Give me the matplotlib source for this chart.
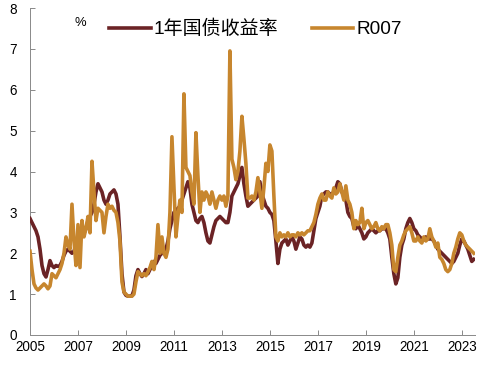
import numpy as np
import matplotlib
matplotlib.use("Agg")
import matplotlib.pyplot as plt

plt.rcParams['font.family'] = ['Liberation Sans', 'Noto Sans CJK SC']

# monthly averages, Jan 2005 - Jul 2023 (%)
bond_1y = [
    2.85, 2.75, 2.65, 2.55, 2.4, 2.1, 1.7, 1.5, 1.42, 1.6, 1.82, 1.7,      # 2005
    1.65, 1.7, 1.68, 1.7, 1.8, 1.95, 2.05, 2.1, 2.05, 2.0, 2.05, 2.2,      # 2006
    2.3, 2.35, 2.45, 2.5, 2.6, 2.8, 2.9, 3.0, 3.2, 3.5, 3.7, 3.6,          # 2007
    3.5, 3.3, 3.2, 3.3, 3.45, 3.5, 3.55, 3.45, 3.2, 2.4, 1.5, 1.05,        # 2008
    0.97, 0.95, 0.95, 0.96, 1.1, 1.45, 1.6, 1.5, 1.43, 1.5, 1.6, 1.5,      # 2009
    1.6, 1.75, 1.8, 1.75, 1.85, 1.95, 2.0, 2.05, 2.1, 2.3, 2.6, 2.8,       # 2010
    3.0, 3.05, 3.1, 3.15, 3.3, 3.45, 3.6, 3.75, 3.6, 3.2, 3.0, 2.8,        # 2011
    2.75, 2.85, 2.9, 2.75, 2.5, 2.3, 2.25, 2.45, 2.65, 2.8, 2.85, 2.9,     # 2012
    2.85, 2.8, 2.75, 2.75, 3.0, 3.4, 3.5, 3.6, 3.7, 3.9, 4.1, 3.7,         # 2013
    3.4, 3.15, 3.2, 3.25, 3.3, 3.35, 3.4, 3.75, 3.45, 3.3, 3.15, 3.1,      # 2014
    3.0, 2.95, 2.8, 2.3, 1.75, 2.1, 2.25, 2.3, 2.35, 2.2, 2.3, 2.4,        # 2015
    2.3, 2.1, 2.25, 2.4, 2.35, 2.2, 2.15, 2.2, 2.15, 2.25, 2.55, 2.85,     # 2016
    3.0, 3.15, 3.4, 3.45, 3.5, 3.5, 3.45, 3.45, 3.5, 3.6, 3.75, 3.7,       # 2017
    3.5, 3.4, 3.3, 3.0, 2.9, 2.85, 2.65, 2.6, 2.7, 2.6, 2.5, 2.35,         # 2018
    2.4, 2.5, 2.55, 2.6, 2.55, 2.5, 2.55, 2.55, 2.6, 2.6, 2.6, 2.5,        # 2019
    2.35, 1.9, 1.5, 1.25, 1.4, 1.9, 2.2, 2.35, 2.6, 2.75, 2.85, 2.75,      # 2020
    2.6, 2.55, 2.45, 2.4, 2.35, 2.35, 2.4, 2.35, 2.35, 2.35, 2.3, 2.2,     # 2021
    2.1, 2.05, 2.0, 1.95, 1.9, 1.85, 1.8, 1.75, 1.8, 1.9, 2.0, 2.2,        # 2022
    2.35, 2.3, 2.2, 2.1, 1.95, 1.8, 1.85,                                  # 2023
]

r007 = [
    2.05, 1.6, 1.25, 1.15, 1.1, 1.15, 1.2, 1.25, 1.2, 1.13, 1.2, 1.5,      # 2005
    1.45, 1.4, 1.5, 1.6, 1.75, 2.0, 2.4, 2.2, 2.1, 3.2, 2.3, 1.7,          # 2006
    2.7, 1.65, 2.8, 2.4, 2.6, 2.9, 2.5, 4.25, 3.5, 2.8, 3.1, 3.05,         # 2007
    3.0, 2.5, 2.9, 3.2, 3.1, 3.15, 3.05, 3.0, 2.75, 2.3, 1.3, 1.05,        # 2008
    1.0, 0.95, 0.95, 0.95, 1.0, 1.3, 1.55, 1.5, 1.45, 1.5, 1.45, 1.55,     # 2009
    1.65, 1.8, 1.6, 1.9, 2.7, 2.0, 2.4, 2.0, 1.9, 2.1, 3.0, 4.85,          # 2010
    3.6, 2.4, 2.9, 3.3, 3.0, 5.9, 4.1, 4.0, 3.9, 3.5, 3.2, 4.95,           # 2011
    3.9, 3.0, 3.5, 3.3, 3.5, 3.4, 3.2, 3.5, 3.3, 3.1, 3.3, 3.4,            # 2012
    3.3, 3.4, 3.15, 3.4, 6.95, 4.3, 4.1, 3.8, 4.0, 4.5, 5.35, 4.8,         # 2013
    4.2, 3.35, 3.35, 3.4, 3.3, 3.5, 3.85, 3.5, 3.1, 3.6, 4.2, 4.0,         # 2014
    4.65, 4.5, 3.4, 2.4, 2.3, 2.5, 2.4, 2.45, 2.4, 2.5, 2.4, 2.45,         # 2015
    2.45, 2.4, 2.5, 2.45, 2.5, 2.45, 2.5, 2.55, 2.55, 2.65, 2.75, 2.95,    # 2016
    3.2, 3.35, 3.45, 3.3, 3.3, 3.5, 3.4, 3.35, 3.6, 3.45, 3.5, 3.7,        # 2017
    3.5, 3.3, 3.65, 3.3, 3.2, 3.0, 2.6, 2.8, 2.7, 2.75, 3.1, 2.6,          # 2018
    2.75, 2.8, 2.7, 2.6, 2.65, 2.75, 2.6, 2.55, 2.65, 2.6, 2.7, 2.7,       # 2019
    2.5, 2.2, 1.6, 1.55, 1.9, 2.2, 2.3, 2.45, 2.55, 2.6, 2.65, 2.5,        # 2020
    2.3, 2.3, 2.4, 2.3, 2.25, 2.4, 2.3, 2.35, 2.6, 2.4, 2.3, 2.15,         # 2021
    2.25, 1.9, 1.85, 1.75, 1.6, 1.55, 1.6, 1.75, 2.0, 2.15, 2.35, 2.5,     # 2022
    2.45, 2.3, 2.2, 2.15, 2.1, 2.05, 2.0,                                  # 2023
]

year_ticks = list(range(2005, 2024, 2))
y_ticks = list(range(0, 9))

dark = '#6b2325'
gold = '#c7862e'

t = 2005 + np.arange(len(bond_1y)) / 12.0

fig = plt.figure(figsize=(7, 365 / 72), dpi=72)
ax = fig.add_axes([30 / 504, 30 / 365, 445 / 504, 327 / 365])

ax.plot(t, bond_1y, color=dark, lw=3.6, solid_joinstyle='round', label='1年国债收益率', zorder=3)
ax.plot(t, r007, color=gold, lw=3.6, solid_joinstyle='round', label='R007', zorder=4)

ax.set_xlim(2005, 2023.55)
ax.set_ylim(0, 8)
ax.set_xticks(year_ticks)
ax.set_yticks(y_ticks)
ax.tick_params(direction='in', length=5, width=1, color='#8c8c8c', labelsize=13.5, pad=5)
ax.tick_params(axis='y', pad=13)

for s in ['top', 'right']:
    ax.spines[s].set_visible(False)
for s in ['left', 'bottom']:
    ax.spines[s].set_color('#8c8c8c')
    ax.spines[s].set_linewidth(1)

ax.legend(loc='center left', bbox_to_anchor=(109 / 504, 1 - 29 / 365), bbox_transform=fig.transFigure,
          ncol=2, frameon=False, fontsize=19, handlelength=2.2, handletextpad=0.15,
          columnspacing=1.75, borderpad=0, borderaxespad=0)
fig.text(80 / 504, 1 - 23 / 365, '%', fontsize=13, ha='center', va='center')

fig.savefig('out.png', dpi=72)
